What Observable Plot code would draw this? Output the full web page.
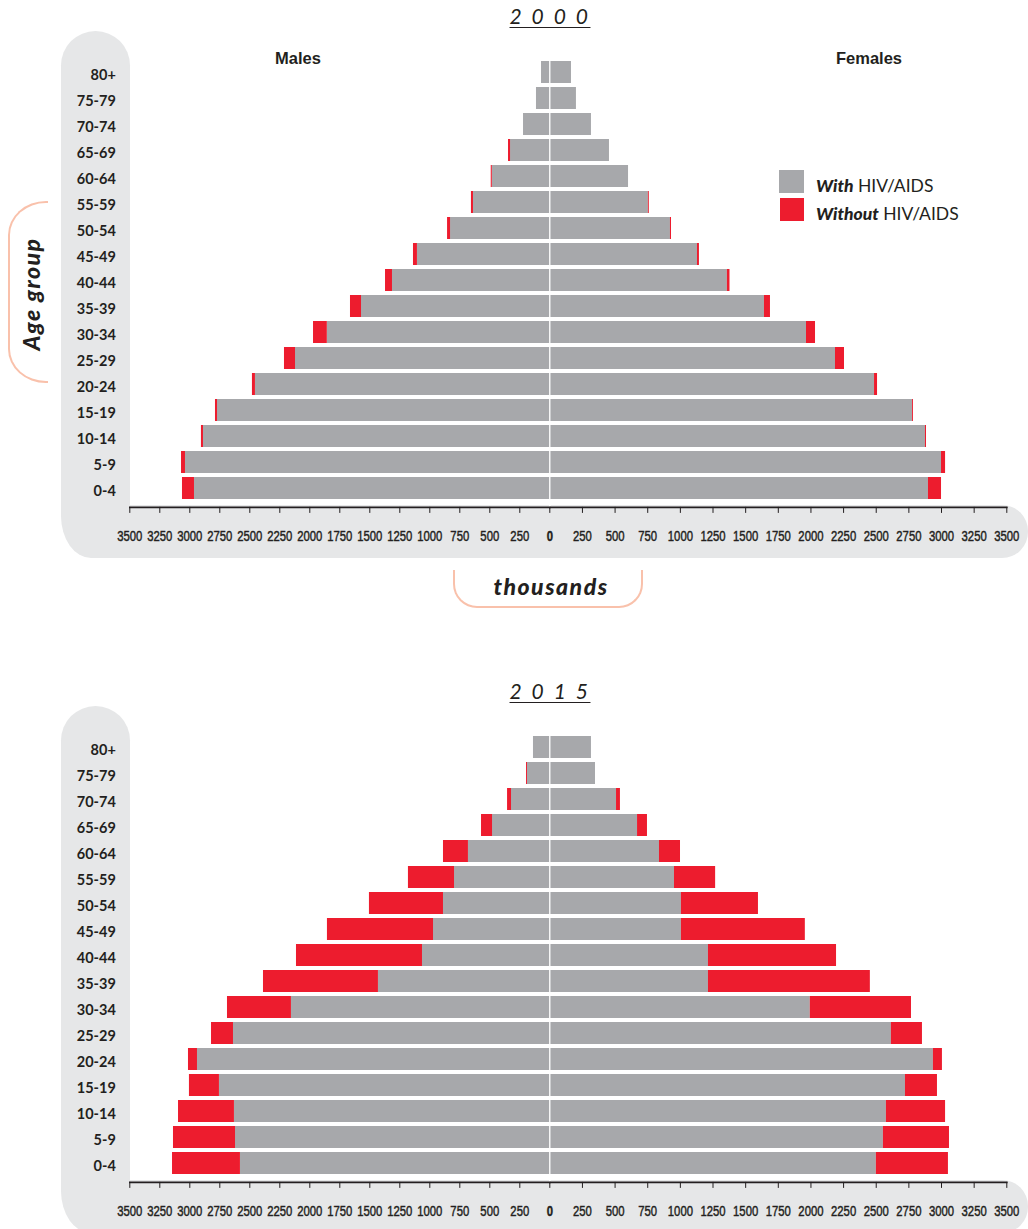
<!DOCTYPE html>
<html><head><meta charset="utf-8">
<script src="https://cdn.jsdelivr.net/npm/d3@7"></script>
<script src="https://cdn.jsdelivr.net/npm/@observablehq/plot@0.6"></script>
<style>
body{margin:0;background:#fff;}
#root{position:relative;width:1028px;height:1229px;overflow:hidden;font-family:Lato,sans-serif;color:#231F20;}
.col{position:absolute;background:#E6E7E8;left:61px;width:69px;border-radius:35px 35px 0 0;}
.band{position:absolute;background:#E6E7E8;left:61px;width:967px;height:53px;border-radius:0 26px 26px 0;border-bottom-left-radius:30px 42px;}
.plot{position:absolute;}
.title{position:absolute;left:450px;width:200px;text-align:center;font-style:italic;font-size:21px;letter-spacing:2.5px;line-height:24px;text-decoration:underline;text-underline-offset:3px;text-decoration-thickness:1px;}
.sex{position:absolute;font-family:"Liberation Sans",Arial,sans-serif;font-weight:bold;font-size:16.5px;line-height:20px;width:200px;text-align:center;}
.sw{position:absolute;width:24px;height:23px;}
.lt{position:absolute;left:816px;font-size:17.5px;line-height:20px;white-space:nowrap;}
.lt b{font-style:italic;font-weight:900;}
.bigit{font-weight:900;font-style:italic;font-size:23px;letter-spacing:1.5px;white-space:nowrap;line-height:26px;}
</style>
</head><body>
<div id="root"></div>
<script>
// Age groups, top to bottom
const ages = ["80+","75-79","70-74","65-69","60-64","55-59","50-54","45-49","40-44","35-39","30-34","25-29","20-24","15-19","10-14","5-9","0-4"];
const years = ["2 0 0 0", "2 0 1 5"];
const sexLabels = ["Males", "Females"];
const legendLabels = [["With", " HIV/AIDS"], ["Without", " HIV/AIDS"]];
const axisTicks = d3.range(250, 3501, 250);

// 2000 (thousands)
const maleWith2000     = [69,111,219,327,479,636,827,1103,1311,1569,1854,2119,2453,2769,2886,3036,2961];
const maleWithout2000  = [69,111,219,344,488,653,852,1136,1369,1661,1969,2211,2478,2786,2903,3069,3061];
const femaleWith2000   = [166,204,319,457,603,755,924,1131,1360,1644,1966,2188,2487,2778,2877,3000,2900];
const femaleWithout2000= [166,204,319,457,603,762,932,1146,1380,1690,2035,2257,2510,2785,2885,3031,3000];

// 2015 (thousands)
const maleWith2015     = [136,186,319,477,678,794,886,969,1061,1428,2153,2636,2936,2753,2628,2619,2578];
const maleWithout2015  = [136,194,352,569,886,1178,1503,1853,2111,2386,2686,2819,3011,3003,3094,3136,3144];
const femaleWith2015   = [319,350,511,672,840,955,1008,1008,1215,1215,1995,2616,2938,2724,2578,2555,2501];
const femaleWithout2015= [319,350,541,748,1001,1270,1598,1957,2196,2455,2770,2854,3007,2969,3031,3061,3053];

const GREY = "#A7A8AB", RED = "#ED1C2E", SALMON = "#F9C1AB", INK = "#231F20";
const TICKFONT = "'Liberation Sans',Arial,sans-serif";

// One half of a pyramid (males: reversed axis on the left; females on the right)
function half(withVals, withoutVals, isMale) {
  const rows = ages.map((age, i) => ({age, with: withVals[i], without: withoutVals[i]}));
  const common = {anchor: "bottom", tickSize: 6, tickPadding: 17, fontSize: 14.5, fontFamily: TICKFONT, label: null};
  const marks = [
    Plot.barX(rows, {y: "age", x1: () => 0, x2: "with", fill: GREY}),
    Plot.barX(rows.filter(d => d.without > d.with), {y: "age", x1: "with", x2: "without", fill: RED}),
    Plot.ruleX([0], {stroke: "white", strokeWidth: 1.3}),
    Plot.frame({anchor: "bottom", stroke: INK, strokeWidth: 1.6}),
    Plot.axisX(axisTicks, {...common, tickFormat: d => String(d)})
  ];
  if (isMale) {
    marks.push(Plot.axisX([0], {...common, tickFormat: () => "0", fontWeight: "bold"}));
    marks.push(Plot.axisY({anchor: "left", tickSize: 0, tickPadding: 14, fontSize: 14.5, fontWeight: "bold", fontFamily: "Lato", dy: 3, label: null}));
  }
  const svg = Plot.plot({
    width: isMale ? 560 : 488, height: 560,
    marginLeft: isMale ? 129.3 : 9.3, marginRight: isMale ? 10.7 : 21.7,
    marginTop: 53.4, marginBottom: 53.1,
    style: {background: "transparent", color: INK, overflow: "visible"},
    x: {domain: isMale ? [3500, 0] : [0, 3500]},
    y: {domain: ages, paddingInner: 0.16, paddingOuter: 0.06, axis: isMale ? undefined : null},
    marks
  });
  // condense and slightly embolden the x tick labels (the original uses a condensed medium face)
  svg.querySelectorAll('g[aria-label="x-axis tick label"]').forEach(g => {
    g.setAttribute("stroke", INK);
    g.setAttribute("stroke-width", "0.45");
    g.querySelectorAll("text").forEach(t => {
      const tr = t.getAttribute("transform") || "";
      t.setAttribute("transform", tr + " scale(0.78,1)");
    });
  });
  return svg;
}

const root = document.getElementById("root");
function el(tag, cls, style, html) {
  const e = document.createElement(tag);
  if (cls) e.className = cls;
  if (style) e.setAttribute("style", style);
  if (html != null) e.innerHTML = html;
  root.appendChild(e);
  return e;
}

const data = [[maleWith2000, maleWithout2000, femaleWith2000, femaleWithout2000],
              [maleWith2015, maleWithout2015, femaleWith2015, femaleWithout2015]];

data.forEach((d, k) => {
  const oy = k * 675;
  el("div", "col", `top:${oy + 31}px;height:485px;`);
  el("div", "band", `top:${oy + 505}px;`);
  el("div", "title", `top:${oy + 4}px;`, years[k]);
  const m = half(d[0], d[1], true);
  m.classList.add("plot");
  m.style.left = "0px"; m.style.top = oy + "px";
  root.appendChild(m);
  const f = half(d[2], d[3], false);
  f.classList.add("plot");
  f.style.left = "540px"; f.style.top = oy + "px";
  root.appendChild(f);
});

// Top panel extras
el("div", "sex", `left:${298 - 100}px;top:48px;`, sexLabels[0]);
el("div", "sex", `left:${869 - 100}px;top:48px;`, sexLabels[1]);
el("div", "sw", `left:779px;top:170px;width:25px;background:${GREY};`);
el("div", "sw", `left:780px;top:198px;background:${RED};`);
el("div", "lt", `top:176px;`, `<b>${legendLabels[0][0]}</b>${legendLabels[0][1]}`);
el("div", "lt", `top:204px;`, `<b>${legendLabels[1][0]}</b>${legendLabels[1][1]}`);

// Age group bracket & label
el("div", null, `position:absolute;left:8px;top:201px;width:38px;height:178px;border:2.5px solid ${SALMON};border-right:none;border-radius:38px 0 0 38px / 34px 0 0 34px;`);
el("div", "bigit", `position:absolute;left:31px;top:294px;transform:translate(-50%,-50%) rotate(-90deg);`, "Age group");

// thousands bracket & label
el("div", null, `position:absolute;left:453px;top:570px;width:186px;height:36px;border:2.5px solid ${SALMON};border-top:none;border-radius:0 0 24px 24px;`);
el("div", "bigit", `position:absolute;left:551px;top:586px;transform:translate(-50%,-50%);`, "thousands");
</script>
</body></html>
